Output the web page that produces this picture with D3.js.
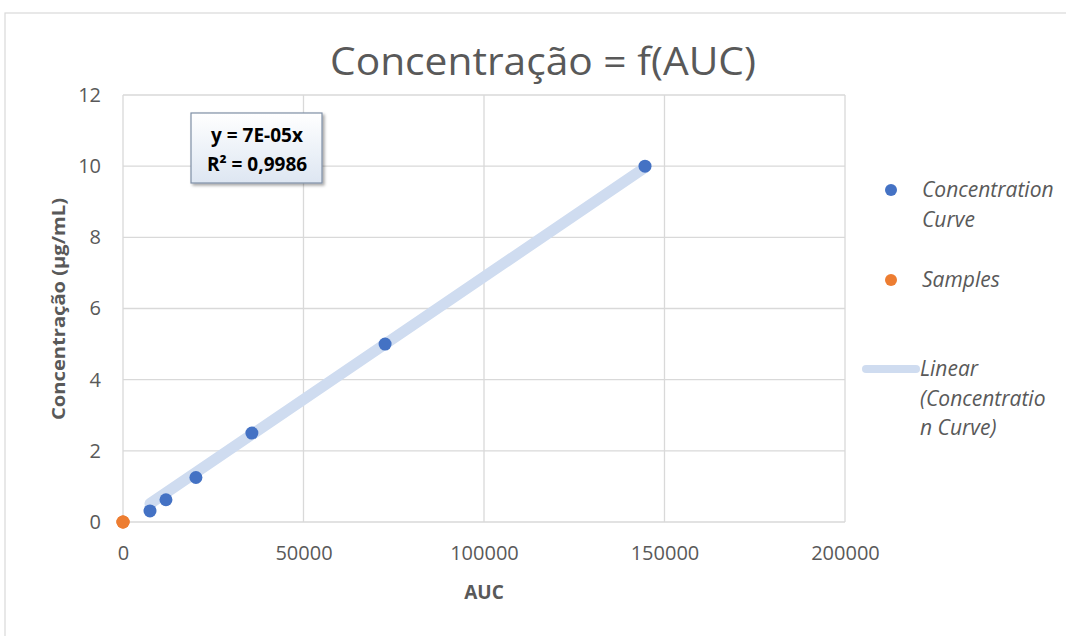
<!DOCTYPE html>
<html>
<head>
<meta charset="utf-8">
<script src="https://cdn.jsdelivr.net/npm/d3@7"></script>
<style>
  body { margin: 0; background: #fff; }
  svg { font-family: "Open Sans", "Noto Sans", sans-serif; }
</style>
</head>
<body>
<div id="chart"></div>
<script>
// data
var curveAUC = [7480, 11900, 20200, 35700, 72600, 144600];
var curveConc = [0.3125, 0.625, 1.25, 2.5, 5, 10];
var sampleAUC = [0, 0, 0];
var sampleConc = [0, 0, 0];
var xTicks = [0, 50000, 100000, 150000, 200000];
var yTicks = [0, 2, 4, 6, 8, 10, 12];
var legendNames = [["Concentration", "Curve"], ["Samples"], ["Linear", "(Concentratio", "n Curve)"]];

var width = 1066, height = 636;
var margin = {top: 95, left: 123, right: 221, bottom: 114};

var svg = d3.select("#chart").append("svg")
    .attr("width", width)
    .attr("height", height);

// chart frame
svg.append("rect")
    .attr("x", 5).attr("y", 13)
    .attr("width", 1080).attr("height", 640)
    .attr("fill", "#fff")
    .attr("stroke", "#d9d9d9")
    .attr("stroke-width", 1.2);

var x = d3.scaleLinear().domain([0, 200000]).range([margin.left, width - margin.right]);
var y = d3.scaleLinear().domain([0, 12]).range([height - margin.bottom, margin.top]);

// gridlines
svg.append("g").selectAll("line.h")
    .data(yTicks).enter().append("line")
    .attr("x1", x(0)).attr("x2", x(200000))
    .attr("y1", function(d){return y(d)}).attr("y2", function(d){return y(d)})
    .attr("stroke", "#d9d9d9").attr("stroke-width", 1.3);

svg.append("g").selectAll("line.v")
    .data(xTicks).enter().append("line")
    .attr("y1", y(0)).attr("y2", y(12))
    .attr("x1", function(d){return x(d)}).attr("x2", function(d){return x(d)})
    .attr("stroke", "#d9d9d9").attr("stroke-width", 1.3);

// axes (labels only)
var xAxis = svg.append("g")
    .attr("transform", "translate(0," + y(0) + ")")
    .call(d3.axisBottom(x).tickValues(xTicks).tickSize(0).tickPadding(24).tickFormat(d3.format("d")));
var yAxis = svg.append("g")
    .attr("transform", "translate(" + x(0) + ",0)")
    .call(d3.axisLeft(y).tickValues(yTicks).tickSize(0).tickPadding(22));
[xAxis, yAxis].forEach(function(a){
    a.select(".domain").remove();
    a.selectAll("text")
        .style("font-family", "'Open Sans', sans-serif")
        .style("font-size", "20px")
        .attr("fill", "#595959");
});

// regression through origin
var sxy = d3.sum(curveAUC, function(d, i){return d * curveConc[i]});
var sxx = d3.sum(curveAUC, function(d){return d * d});
var slope = sxy / sxx;
var x0 = d3.min(curveAUC), x1 = d3.max(curveAUC);

svg.append("line")
    .attr("x1", x(x0)).attr("y1", y(slope * x0))
    .attr("x2", x(x1)).attr("y2", y(slope * x1))
    .attr("stroke", "#cfdcf0")
    .attr("stroke-width", 11)
    .attr("stroke-linecap", "round");

// points
svg.append("g").selectAll("circle")
    .data(curveAUC).enter().append("circle")
    .attr("cx", function(d){return x(d)})
    .attr("cy", function(d, i){return y(curveConc[i])})
    .attr("r", 6.5)
    .attr("fill", "#4472c4");

svg.append("g").selectAll("circle")
    .data(sampleAUC).enter().append("circle")
    .attr("cx", function(d){return x(d)})
    .attr("cy", function(d, i){return y(sampleConc[i])})
    .attr("r", 6.5)
    .attr("fill", "#ed7d31");

// title
svg.append("text")
    .attr("x", 543).attr("y", 75)
    .attr("text-anchor", "middle")
    .style("font-family", "'Open Sans', sans-serif")
    .style("font-size", "38px")
    .attr("fill", "#595959")
    .attr("textLength", 426)
    .attr("lengthAdjust", "spacingAndGlyphs")
    .text("Concentração = f(AUC)");

// axis titles
svg.append("text")
    .attr("x", 484).attr("y", 599)
    .attr("text-anchor", "middle")
    .style("font-size", "19px").style("font-weight", "bold")
    .attr("fill", "#595959")
    .text("AUC");

svg.append("text")
    .attr("transform", "translate(65,309) rotate(-90)")
    .attr("text-anchor", "middle")
    .style("font-size", "18px").style("font-weight", "bold")
    .attr("fill", "#595959")
    .attr("textLength", 222)
    .attr("lengthAdjust", "spacingAndGlyphs")
    .text("Concentração (µg/mL)");

// equation label box
var defs = svg.append("defs");
var grad = defs.append("linearGradient").attr("id", "boxgrad")
    .attr("x1", 0).attr("y1", 0).attr("x2", 0).attr("y2", 1);
grad.append("stop").attr("offset", "0%").attr("stop-color", "#ffffff");
grad.append("stop").attr("offset", "100%").attr("stop-color", "#dde6f2");
var shadow = defs.append("filter").attr("id", "shadow")
    .attr("x", "-10%").attr("y", "-10%").attr("width", "130%").attr("height", "140%");
shadow.append("feDropShadow").attr("dx", 2).attr("dy", 2).attr("stdDeviation", 1.5)
    .attr("flood-color", "#000").attr("flood-opacity", 0.35);

svg.append("rect")
    .attr("x", 191).attr("y", 113)
    .attr("width", 131).attr("height", 70)
    .attr("fill", "url(#boxgrad)")
    .attr("stroke", "#7f8fa6")
    .attr("stroke-width", 1.2)
    .attr("filter", "url(#shadow)");

var eqLines = ["y = 7E-05x", "R² = 0,9986"];
svg.append("g").selectAll("text")
    .data(eqLines).enter().append("text")
    .attr("x", 257)
    .attr("y", function(d, i){return 142 + i * 29})
    .attr("text-anchor", "middle")
    .style("font-size", "19px").style("font-weight", "bold")
    .attr("fill", "#000")
    .text(function(d){return d});

// legend
var legendY = [190, 280, 369];
var legend = svg.append("g");
legend.append("circle").attr("cx", 891).attr("cy", legendY[0]).attr("r", 6).attr("fill", "#4472c4");
legend.append("circle").attr("cx", 891).attr("cy", legendY[1]).attr("r", 6).attr("fill", "#ed7d31");
legend.append("line")
    .attr("x1", 866).attr("x2", 916)
    .attr("y1", legendY[2]).attr("y2", legendY[2])
    .attr("stroke", "#cfdcf0").attr("stroke-width", 8).attr("stroke-linecap", "round");

legendNames.forEach(function(lines, k){
    lines.forEach(function(t, j){
        legend.append("text")
            .attr("x", k == 2 ? 920 : 922)
            .attr("y", legendY[k] + 7 + j * 29.5)
            .style("font-size", "21px").style("font-style", "italic")
            .attr("fill", "#595959")
            .text(t);
    });
});
</script>
</body>
</html>
